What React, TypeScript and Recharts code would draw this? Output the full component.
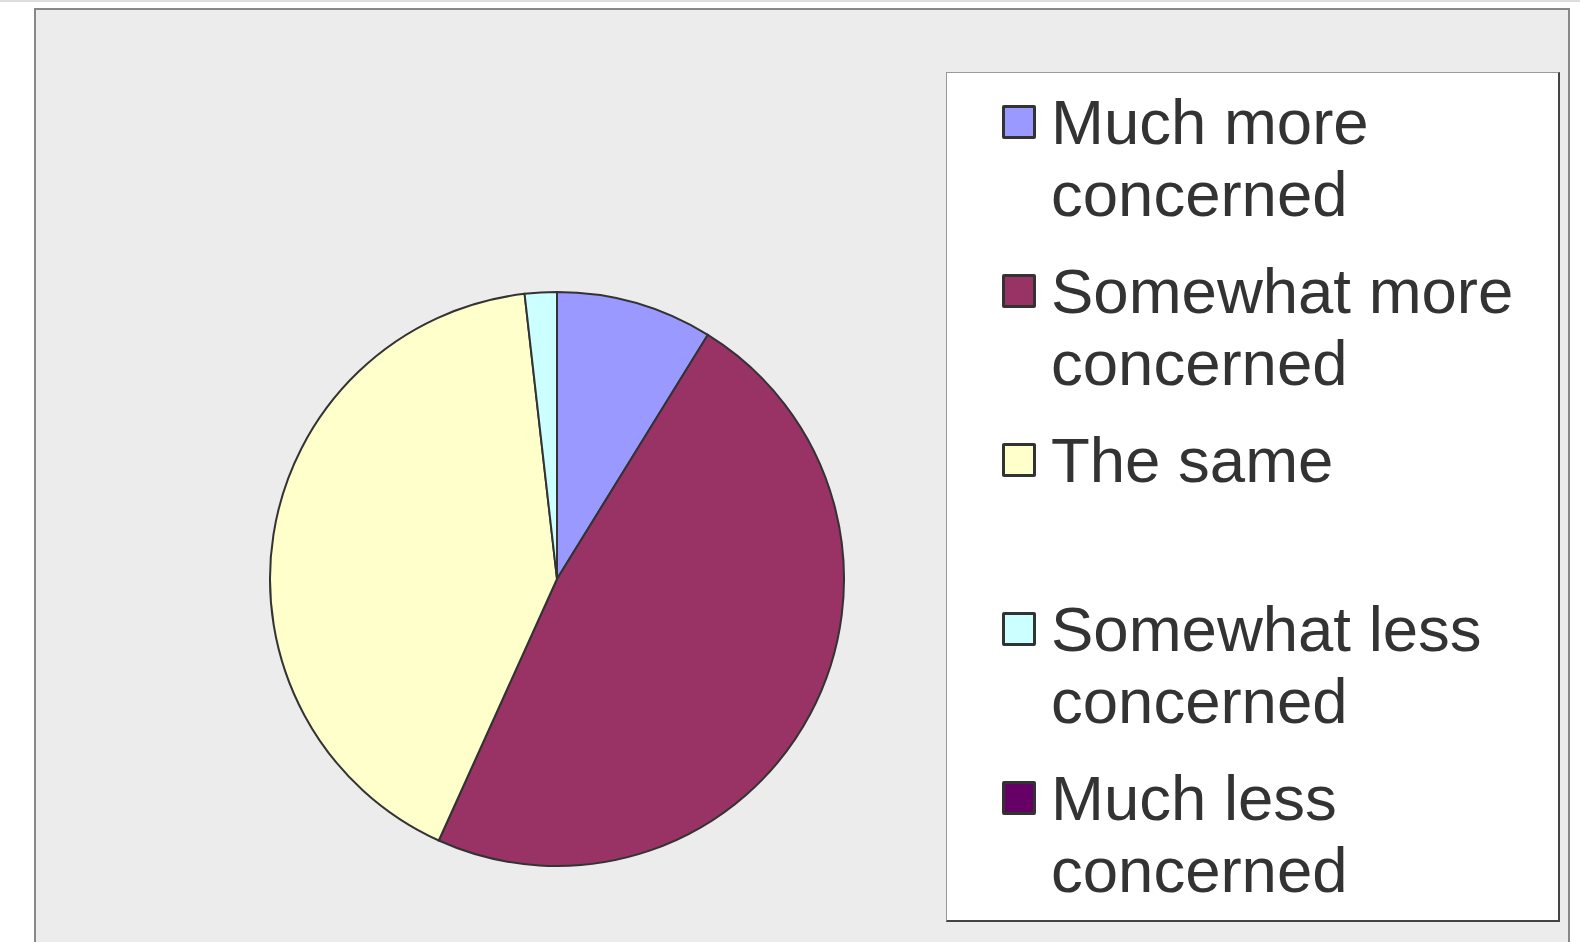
import { Cell, Legend, Pie, PieChart } from 'recharts'

const categories = [
  'Much more concerned',
  'Somewhat more concerned',
  'The same',
  'Somewhat less concerned',
  'Much less concerned',
]
const shares = [8.8, 47.9, 41.4, 1.8, 0]
const colors = ['#9999FF', '#993366', '#FFFFCC', '#CCFFFF', '#660066']

const data = categories.map((name, i) => ({ name, value: shares[i] }))

const FONT = '"Liberation Sans", Arial, sans-serif'

function LegendBox() {
  return (
    <div
      style={{
        boxSizing: 'border-box',
        width: 614,
        height: 850,
        background: '#fff',
        borderTop: '1px solid #999',
        borderLeft: '1px solid #999',
        borderRight: '2px solid #444',
        borderBottom: '2px solid #444',
        paddingTop: 13,
        fontFamily: FONT,
      }}
    >
      {categories.map((name, i) => (
        <div key={name} style={{ position: 'relative', height: 169 }}>
          <div
            style={{
              position: 'absolute',
              left: 55,
              top: 19,
              width: 34,
              height: 34,
              boxSizing: 'border-box',
              border: '3px solid #333',
              borderRadius: 2,
              background: colors[i],
            }}
          />
          <div
            style={{
              position: 'absolute',
              left: 104,
              top: 0,
              width: 500,
              fontSize: 63.5,
              lineHeight: '72px',
              color: '#333',
            }}
          >
            {name}
          </div>
        </div>
      ))}
    </div>
  )
}

export default function App() {
  return (
    <div style={{ position: 'absolute', left: 0, top: 0, width: 1580, height: 942, overflow: 'hidden', background: '#fff' }}>
      <div style={{ position: 'absolute', left: 0, top: 0, width: 1580, height: 2, background: '#ddd' }} />
      <div
        style={{
          position: 'absolute',
          left: 34,
          top: 8,
          width: 1536,
          height: 960,
          boxSizing: 'border-box',
          background: '#ececec',
          border: '2px solid #888',
        }}
      />
      <PieChart
        width={1580}
        height={942}
        margin={{ top: 0, right: 0, bottom: 0, left: 0 }}
        style={{ position: 'absolute', left: 0, top: 0 }}
      >
        <Pie
          data={data}
          dataKey="value"
          nameKey="name"
          cx={557}
          cy={579}
          outerRadius={287}
          startAngle={90}
          endAngle={-270}
          stroke="#333"
          strokeWidth={2}
          isAnimationActive={false}
        >
          {data.map((d, i) => (
            <Cell key={d.name} fill={colors[i]} />
          ))}
        </Pie>
        <Legend
          content={() => <LegendBox />}
          wrapperStyle={{ position: 'absolute', left: 946, top: 72, width: 614, height: 850 }}
        />
      </PieChart>
    </div>
  )
}
